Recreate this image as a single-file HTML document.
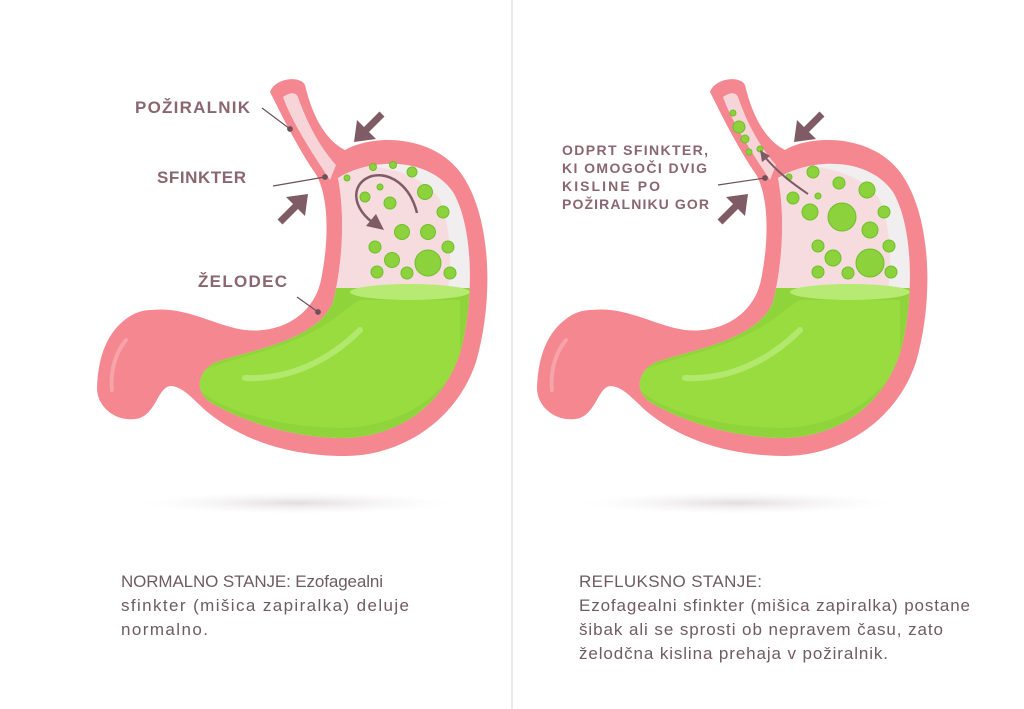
<!DOCTYPE html>
<html><head><meta charset="utf-8"><style>
html,body{margin:0;padding:0;background:#fff;}
svg{display:block;}
.lbl{font-family:"Liberation Sans",sans-serif;font-weight:bold;fill:#8a6670;}
.txt{font-family:"Liberation Sans",sans-serif;fill:#6f5b62;font-size:17px;}
</style></head><body>
<svg width="1024" height="709" viewBox="0 0 1024 709" xmlns="http://www.w3.org/2000/svg">
<defs>
<radialGradient id="sh" cx="50%" cy="50%" r="50%"><stop offset="0" stop-color="#e2dcdd"/><stop offset="1" stop-color="#f6f4f4" stop-opacity="0"/></radialGradient>
<clipPath id="cav"><path d="M338,178 C370,158 428,156 453,192 C474,228 474,300 461,350 C444,405 400,436 345,438 C290,438 240,420 210,402 C195,392 196,372 216,362 C252,350 318,340 333,302 C343,262 345,214 338,178 Z"/></clipPath>
<g id="stom">
<path d="M270,92 C275,78 300,75 305,85 C312,115 325,140 345,150 C370,135 430,133 460,172 C492,215 494,300 476,362 C456,422 400,456 345,456 C290,456 240,440 205,410 C192,398 182,386 170,386 C158,388 156,412 140,418 C118,424 97,408 97,388 C98,360 105,340 118,326 C130,314 140,310 152,310 C186,306 215,326 245,330 C282,334 314,314 321,280 C329,240 329,200 317,176 C299,150 284,120 270,92 Z" fill="#f4878f"/>
<path d="M112,390 C110,370 116,352 126,340" stroke="#f6a3aa" stroke-width="4" fill="none" stroke-linecap="round"/>
<path d="M283,97 C290,92 296,92 298,97 C306,120 318,145 336,165 L330,180 C310,150 292,122 283,97 Z" fill="#f7d4d7"/>
<g clip-path="url(#cav)">
<rect x="190" y="150" width="300" height="300" fill="#f0eeee"/>
<path d="M330,170 C370,160 420,170 440,200 C455,240 452,290 440,320 L330,320 Z" fill="#f6dcde"/>
<rect x="190" y="288" width="300" height="170" fill="#8fd43a"/>
<ellipse cx="410" cy="292" rx="60" ry="8" fill="#b6ea72"/>
<path d="M200,372 C230,356 300,350 345,310 L360,300 L460,300 L460,360 C440,400 400,425 345,428 C280,428 220,410 200,390 Z" fill="#98dc40"/>
</g>
<path d="M245,378 C290,380 330,360 360,330" stroke="#b2e86c" stroke-width="6" fill="none" stroke-linecap="round"/>
<ellipse cx="297" cy="503" rx="155" ry="11" fill="url(#sh)"/>
</g>
</defs>

<line x1="512" y1="0" x2="512" y2="709" stroke="#f1dfe3" stroke-width="1.5"/>

<use href="#stom"/>
<use href="#stom" transform="translate(440,0)"/>

<g fill="#8cd23c" stroke="#6fbf2a" stroke-width="1">
<circle cx="373" cy="167" r="3.5"/><circle cx="393" cy="165" r="3.5"/><circle cx="412" cy="172" r="5"/><circle cx="347" cy="178" r="3"/><circle cx="380" cy="187" r="3"/><circle cx="365" cy="197" r="5"/><circle cx="390" cy="203" r="6"/><circle cx="425" cy="192" r="7.5"/><circle cx="443" cy="212" r="6"/><circle cx="402" cy="232" r="7.5"/><circle cx="428" cy="232" r="7.5"/><circle cx="375" cy="247" r="6"/><circle cx="448" cy="247" r="6"/><circle cx="392" cy="260" r="7.5"/><circle cx="428" cy="263" r="13"/><circle cx="377" cy="272" r="6"/><circle cx="407" cy="273" r="6"/><circle cx="450" cy="273" r="6"/>
</g>
<g fill="#8cd23c" stroke="#6fbf2a" stroke-width="1">
<circle cx="733" cy="113" r="3"/><circle cx="739" cy="127" r="6"/><circle cx="745" cy="139" r="4"/><circle cx="749" cy="152" r="3"/><circle cx="760" cy="149" r="3"/><circle cx="813" cy="172" r="6"/><circle cx="789" cy="177" r="3"/><circle cx="839" cy="183" r="6"/><circle cx="867" cy="190" r="8"/><circle cx="793" cy="198" r="6"/><circle cx="818" cy="196" r="3"/><circle cx="810" cy="212" r="8"/><circle cx="842" cy="217" r="14"/><circle cx="884" cy="212" r="6"/><circle cx="870" cy="230" r="8"/><circle cx="818" cy="246" r="6"/><circle cx="889" cy="246" r="6"/><circle cx="833" cy="258" r="8"/><circle cx="870" cy="263" r="14"/><circle cx="818" cy="272" r="6"/><circle cx="848" cy="273" r="6"/><circle cx="891" cy="272" r="6"/>
</g>

<g fill="#7f5c65" stroke="#7f5c65">
<line x1="382" y1="114" x2="364" y2="132" stroke-width="7"/><polygon points="354,142 357,120 376,139" stroke="none"/>
<line x1="280" y1="222" x2="298" y2="204" stroke-width="7"/><polygon points="308,194 305,216 286,197" stroke="none"/>
<line x1="822" y1="114" x2="804" y2="132" stroke-width="7"/><polygon points="794,142 797,120 816,139" stroke="none"/>
<line x1="720" y1="222" x2="738" y2="204" stroke-width="7"/><polygon points="748,194 745,216 726,197" stroke="none"/>
<path d="M417,213 C410,185 390,172 372,176 C352,182 350,205 372,222" fill="none" stroke-width="2.5"/>
<polygon points="384,230 366,226 376,214" stroke="none"/>
<path d="M808,194 C795,185 780,175 764,156" fill="none" stroke-width="2"/>
<polygon points="760,150 770,156 762,162" stroke="none"/>
</g>

<g stroke="#6d5158" stroke-width="1.2" fill="#6d5158">
<line x1="262" y1="108" x2="290" y2="129"/><circle cx="290" cy="129" r="2.3"/>
<line x1="273" y1="186" x2="325" y2="177"/><circle cx="325" cy="177" r="2.3"/>
<line x1="297" y1="297" x2="318" y2="312"/><circle cx="318" cy="312" r="2.3"/>
<line x1="718" y1="185" x2="765" y2="178"/><circle cx="765" cy="178" r="2.3"/>
</g>

<text class="lbl" x="135" y="113" font-size="17" textLength="115">POŽIRALNIK</text>
<text class="lbl" x="157" y="183" font-size="17" textLength="89">SFINKTER</text>
<text class="lbl" x="198" y="287" font-size="17" textLength="89">ŽELODEC</text>
<g class="lbl" font-size="14">
<text x="562" y="155" textLength="146">ODPRT SFINKTER,</text>
<text x="562" y="173" textLength="145">KI OMOGOČI DVIG</text>
<text x="562" y="191" textLength="98">KISLINE PO</text>
<text x="562" y="209" textLength="147">POŽIRALNIKU GOR</text>
</g>

<g class="txt">
<text x="121" y="587" textLength="262">NORMALNO STANJE: Ezofagealni</text>
<text x="121" y="611" textLength="288">sfinkter (mišica zapiralka) deluje</text>
<text x="121" y="635" textLength="87">normalno.</text>
<text x="579" y="587" textLength="183">REFLUKSNO STANJE:</text>
<text x="579" y="611" textLength="391">Ezofagealni sfinkter (mišica zapiralka) postane</text>
<text x="579" y="635" textLength="364">šibak ali se sprosti ob nepravem času, zato</text>
<text x="579" y="659" textLength="309">želodčna kislina prehaja v požiralnik.</text>
</g>
</svg>
</body></html>
